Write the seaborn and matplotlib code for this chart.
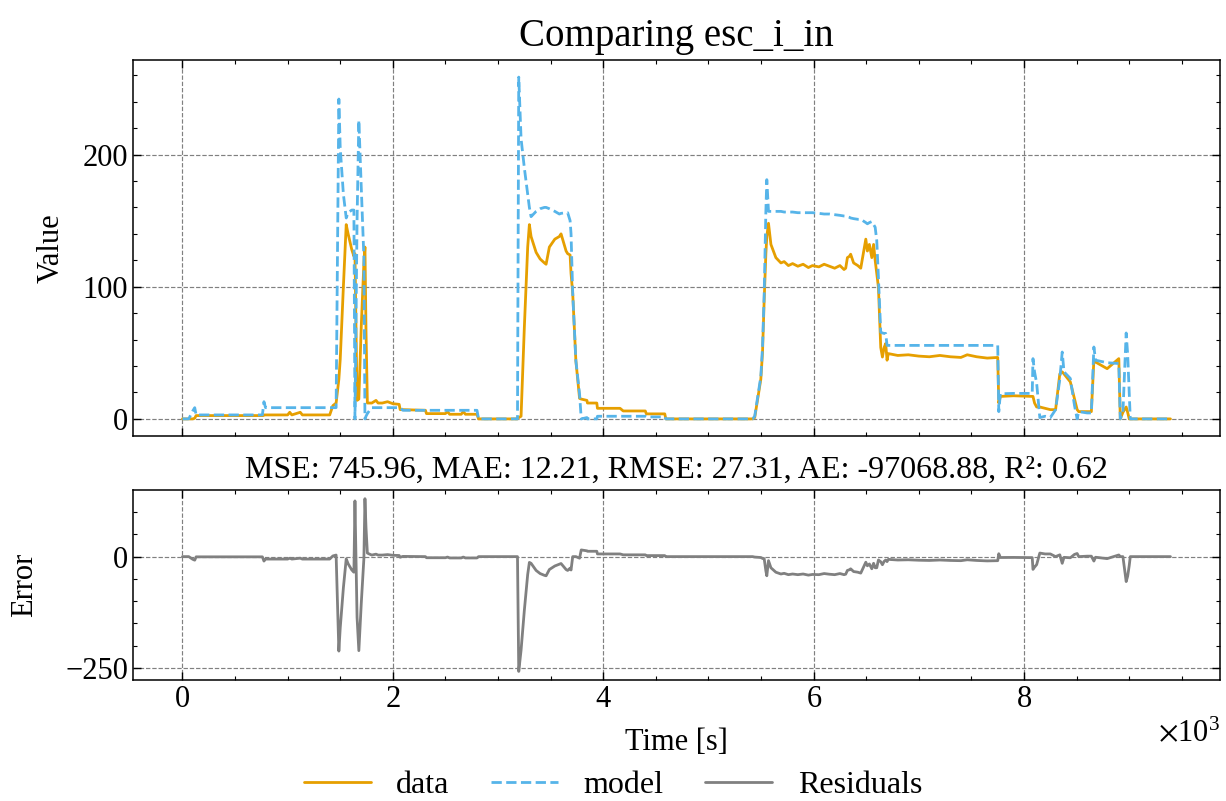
import matplotlib
matplotlib.use("Agg")
import matplotlib.pyplot as plt
from matplotlib.ticker import MultipleLocator, ScalarFormatter
import numpy as np
import pandas as pd
import seaborn as sns

# ---- measured signal (time in seconds) ----
time_s = [
    # idle / low current
    0, 60, 98, 117, 130, 400, 760, 768, 775, 790, 1000, 1020, 1040, 1120, 1140, 1400, 1430, 1461,
    # first burst
    1487, 1500, 1530, 1557, 1575, 1610, 1630, 1640, 1660, 1677,
    1700, 1725, 1735, 1745, 1758, 1775, 1800, 1840, 1860, 1900,
    1950, 2000, 2060, 2070, 2095, 2310, 2320, 2500, 2520, 2540,
    2650, 2670, 2690, 2800, 2815, 3185,
    # second burst
    3197, 3219, 3250, 3282, 3298, 3314, 3362, 3400, 3441, 3457,
    3488, 3540, 3583, 3599, 3647, 3662, 3685, 3694, 3710, 3740,
    3775, 3791, 3845, 3850, 3939, 3945, 4160, 4190, 4400, 4410,
    4585, 4595, 5420,
    # long plateau
    5440, 5498, 5514, 5530, 5546, 5555, 5571, 5594, 5641, 5689,
    5720, 5760, 5800, 5850, 5900, 5950, 5989, 6050, 6100, 6150,
    6200, 6250, 6289, 6305, 6321, 6340, 6352, 6380, 6420, 6448,
    6496, 6511, 6530, 6553, 6570, 6585, 6600, 6616, 6638, 6654,
    6670, 6685, 6698, 6710, 6800, 6900, 7000, 7100, 7200, 7300,
    7400, 7460, 7550, 7650, 7750, 7760, 7775, 7900, 8078,
    # final pulses
    8085, 8100, 8120, 8150, 8200, 8250, 8300, 8340, 8363, 8380,
    8440, 8480, 8505, 8520, 8600, 8640, 8664, 8680, 8790, 8901,
    8915, 8940, 8971, 8985, 9000, 9010, 9392,
]

data_values = [
    0, 0, 0, 0.5, 2.5, 2.5, 2.5, 2.5, 3, 3, 3, 5, 3, 5, 3, 3, 10, 12,
    30, 45, 100, 147, 140, 128, 123, 125, 14, 15,
    70, 118, 130, 67, 12, 12, 12, 14, 12, 12,
    13, 11.5, 11, 7, 7, 6.5, 4, 4, 5.5, 3.5,
    3.5, 5.5, 3.5, 3.5, 0, 0,
    1, 2, 69, 130, 147, 138, 126, 121, 118, 117,
    130, 136, 138, 140, 127, 125, 124, 110, 95, 44,
    15.5, 15, 14, 12, 12, 8, 8, 6, 6, 3.8,
    3.8, 0, 0,
    1, 30, 50, 90, 125, 138, 148, 132, 122, 118,
    119, 116, 117.5, 115.5, 117, 114.5, 116, 115, 117, 115.5,
    114, 116, 113, 114, 122, 123, 124.6, 118, 116, 114,
    136, 127, 132, 122, 132, 120, 110, 99.5, 54, 46.8,
    54, 57, 44.4, 49.4, 48, 48.5, 47.5, 47, 48, 47,
    46.5, 48.5, 47, 46, 46.5, 12, 17, 17.5, 17,
    17, 12, 9, 9, 8, 7, 7, 34, 35.6, 34,
    28, 15, 7, 5.5, 5.5, 5.5, 44.4, 43, 38, 45.6,
    0, 5, 9, 5, 0, 0, 0,
]

model_values = [
    0, 0, 6, 8.5, 3, 3, 3, 8, 13, 8.5, 8.5, 8.5, 8.5, 8.5, 8.5, 8.5, 8.5, 8.5,
    242, 205, 170, 152, 156, 158, 158, 0, 150, 226,
    175, 122, 0, 2, 4, 6, 8.5, 8.5, 8.5, 8.5,
    8.5, 8.5, 8.5, 8.5, 6.5, 6.5, 6.5, 6.5, 6.5, 6.5,
    6.5, 6.5, 6.5, 6.5, 0, 0,
    258.6, 212, 190, 170, 160, 153, 157, 159, 160, 160,
    159, 157, 155, 155.5, 156, 156, 150, 140, 95, 44,
    19, 0, 1, 0, 0, 2, 2, 2, 2, 1.5,
    1.5, 0, 0,
    2, 32, 54, 94.5, 157, 181, 157, 157, 157, 157,
    156.5, 156.5, 156.5, 156, 156, 156, 156, 155.5, 155, 155,
    154.5, 154, 153.5, 153.4, 153, 152.5, 152, 151.5, 151, 151,
    148.5, 147.6, 148.5, 149.3, 147, 145, 135, 107, 65.6, 65,
    64.7, 64.7, 55.6, 55.6, 55.6, 55.6, 55.6, 55.6, 55.6, 55.6,
    55.6, 55.6, 55.6, 55.6, 55.6, 5.5, 19, 19.3, 19.3,
    45.6, 35.6, 27, 1, 2, 1, 7, 30, 50.6, 35.6,
    30.6, 10, 0, 5.5, 4.5, 4.5, 54.4, 44.4, 42.5, 41.9,
    0, 5, 65, 49, 20, 0, 0,
]

series_labels = ["data", "model", "Residuals"]
title_text = "Comparing esc_i_in"
metrics_text = "MSE: 745.96, MAE: 12.21, RMSE: 27.31, AE: -97068.88, R²: 0.62"

assert len(time_s) == len(data_values) == len(model_values)

df = pd.DataFrame({"time": time_s, "data": data_values, "model": model_values})
df["residual"] = df["data"] - df["model"]

# ---- style ----
sns.set_theme(style="ticks")
plt.rcParams.update({
    "font.family": ["Liberation Serif", "DejaVu Serif"],
    "mathtext.fontset": "stix",
    "font.size": 22,
    "axes.titlesize": 22,
    "axes.labelsize": 22,
    "xtick.labelsize": 22,
    "ytick.labelsize": 22,
    "legend.fontsize": 23,
    "text.color": "black",
    "axes.labelcolor": "black",
    "axes.edgecolor": "black",
    "axes.linewidth": 1.1,
    "xtick.color": "black",
    "ytick.color": "black",
    "xtick.direction": "in",
    "ytick.direction": "in",
    "xtick.top": True,
    "ytick.right": True,
    "xtick.minor.visible": True,
    "ytick.minor.visible": True,
    "xtick.major.size": 5.5,
    "ytick.major.size": 5.5,
    "xtick.minor.size": 3,
    "ytick.minor.size": 3,
    "xtick.major.width": 1.0,
    "ytick.major.width": 1.0,
    "xtick.minor.width": 0.8,
    "ytick.minor.width": 0.8,
    "axes.unicode_minus": True,
})

c_data = "#E69F00"
c_model = "#56B4E9"
c_resid = "#808080"

fig = plt.figure(figsize=(12.26, 8.01), dpi=100)
ax1 = fig.add_axes([0.1085, 0.4557, 0.8865, 0.4694])
ax2 = fig.add_axes([0.1085, 0.151, 0.8865, 0.2372], sharex=ax1)

sns.lineplot(data=df, x="time", y="data", ax=ax1, color=c_data, linewidth=2.0,
             label=series_labels[0], sort=False, estimator=None)
sns.lineplot(data=df, x="time", y="model", ax=ax1, color=c_model, linewidth=2.0,
             linestyle="--", label=series_labels[1], sort=False, estimator=None)
sns.lineplot(data=df, x="time", y="residual", ax=ax2, color=c_resid, linewidth=2.0,
             label=series_labels[2], sort=False, estimator=None)

for ax in (ax1, ax2):
    leg = ax.get_legend()
    if leg is not None:
        leg.remove()
    ax.grid(True, which="major", linestyle="--", color="#808080", linewidth=0.85)
    ax.xaxis.set_major_locator(MultipleLocator(2000))
    ax.xaxis.set_minor_locator(MultipleLocator(500))

ax1.yaxis.set_major_locator(MultipleLocator(100))
ax1.yaxis.set_minor_locator(MultipleLocator(20))
ax2.yaxis.set_major_locator(MultipleLocator(250))
ax2.yaxis.set_minor_locator(MultipleLocator(50))

fmt = ScalarFormatter(useMathText=True)
fmt.set_powerlimits((0, 0))
ax2.xaxis.set_major_formatter(fmt)

ax1.tick_params(axis="x", labelbottom=False)
ax1.xaxis.offsetText.set_visible(False)

ax1.set_xlabel("")
ax1.set_ylabel("Value", labelpad=12)
ax2.set_ylabel("Error", labelpad=19)
ax2.set_xlabel("Time [s]", labelpad=10)
ax1.set_title(title_text, fontsize=28, pad=10)
ax2.set_title(metrics_text, fontsize=23, pad=9)

handles1, labels1 = ax1.get_legend_handles_labels()
handles2, labels2 = ax2.get_legend_handles_labels()
fig.legend(handles1 + handles2, labels1 + labels2, loc="lower center",
           bbox_to_anchor=(0.5, -0.035), ncol=3, frameon=False,
           handlelength=2.1, handletextpad=0.8, columnspacing=1.3)

fig.savefig("out.png", dpi=100)
